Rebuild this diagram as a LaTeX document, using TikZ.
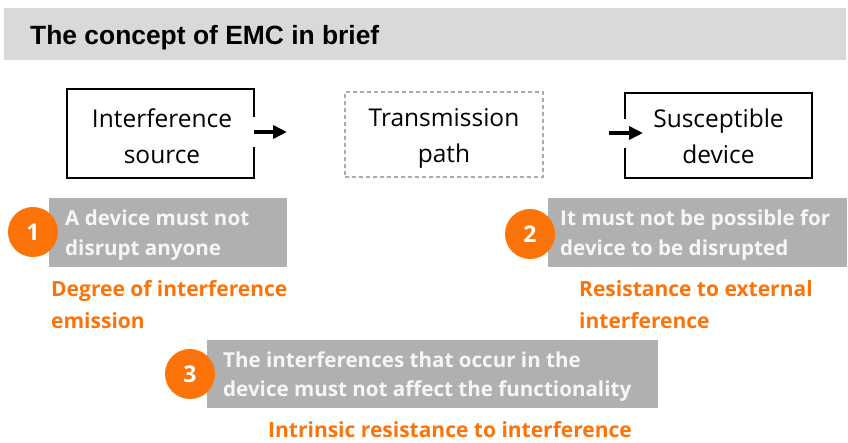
\documentclass[tikz,border=0pt]{standalone}
\usepackage{fontspec}
\setmainfont{Open Sans}
\newfontfamily\titlefont{Liberation Sans}
\usetikzlibrary{arrows.meta}
\definecolor{orng}{RGB}{252,115,10}
\definecolor{titlegray}{RGB}{217,217,217}
\definecolor{boxgray}{RGB}{176,176,176}
\definecolor{dashgray}{RGB}{170,170,170}
\definecolor{paletext}{RGB}{246,246,246}
\begin{document}
\begin{tikzpicture}[x=1pt,y=-1pt,
  frame/.style={draw=black, line width=2.4pt},
  blockbox/.style={inner sep=0pt, minimum width=#1},
  blocklabel/.style={anchor=north, align=center, inner sep=0pt,
    font=\fontsize{24.5}{36}\selectfont},
  arr/.style={line width=4pt, -{Triangle[length=14pt,width=13pt]}},
  graybox/.style={fill=boxgray, inner sep=0pt, anchor=north west},
  graytext/.style={anchor=west, align=left, inner sep=0pt, text=paletext,
    font=\bfseries\fontsize{20.6}{29.5}\selectfont},
  numdot/.style={circle, fill=orng, minimum size=50pt, inner sep=0pt,
    text=white, font=\bfseries\fontsize{23}{23}\selectfont},
  orangelabel/.style={anchor=north west, align=left, inner sep=0pt, text=orng,
    font=\bfseries\fontsize{21}{32}\selectfont}
]
\useasboundingbox (0,0) rectangle (848,443);

% heading bar
\node[fill=titlegray, anchor=north west, inner sep=0pt,
      minimum width=842pt, minimum height=52pt] (bar) at (4,8) {};
\node[anchor=base west, inner sep=0pt,
      font=\titlefont\bfseries\fontsize{26.4}{30}\selectfont] (title) at (30,45)
      {The concept of EMC in brief};

% the three blocks of the coupling chain
\node[blockbox=187pt, minimum height=89pt] (src) at (160.5,133.5) {};
\node[blockbox=198pt, minimum height=85pt, draw=dashgray, line width=1.8pt,
      dash pattern=on 4pt off 3pt] (path) at (444,134.5) {};
\node[blockbox=187pt, minimum height=85pt] (dev) at (718.5,135.5) {};

% source frame, open on the right
\draw[frame] (src.east |- 0,117) -- (src.north east) -- (src.north west)
  -- (src.south west) -- (src.south east) -- (src.east |- 0,147);
% device frame, open on the left
\draw[frame] (dev.west |- 0,119) -- (dev.north west) -- (dev.north east)
  -- (dev.south east) -- (dev.south west) -- (dev.west |- 0,148);

\node[blocklabel] (srcl) at (162,108.5) {Interference\\source};
\node[blocklabel] (pathl) at (444,108.5) {Transmission\\path};
\node[blocklabel] (devl) at (718.5,108.5) {Susceptible\\device};

% emission and immission arrows
\coordinate (srcout) at (287,132);
\draw[arr] (src.east |- srcout) -- (srcout);
\coordinate (devin) at (609,133);
\coordinate (devtip) at (643,133);
\draw[arr] (devin) -- (devtip);

% requirement 1
\node[graybox, minimum width=238pt, minimum height=69pt] (g1) at (49,198) {};
\node[graytext] (t1) at ([xshift=16pt,yshift=-2.5pt]g1.west) {A device must not\\disrupt anyone};
\node[numdot] (n1) at (33,232) {1};
\node[orangelabel] (o1) at (51,280) {Degree of interference\\emission};

% requirement 2
\node[graybox, minimum width=299pt, minimum height=69pt] (g2) at (548,198) {};
\node[graytext] (t2) at ([xshift=12pt,yshift=-2.5pt]g2.west) {It must not be possible for\\device to be disrupted};
\node[numdot] (n2) at (530,234) {2};
\node[orangelabel] (o2) at (579,280) {Resistance to external\\interference};

% requirement 3
\node[graybox, minimum width=451pt, minimum height=68pt] (g3) at (207,340) {};
\node[graytext] (t3) at ([xshift=16pt,yshift=-2.5pt]g3.west) {The interferences that occur in the\\device must not affect the functionality};
\node[numdot] (n3) at (190,374) {3};
\node[orangelabel] (o3) at (268,421) {Intrinsic resistance to interference};
\end{tikzpicture}
\end{document}
